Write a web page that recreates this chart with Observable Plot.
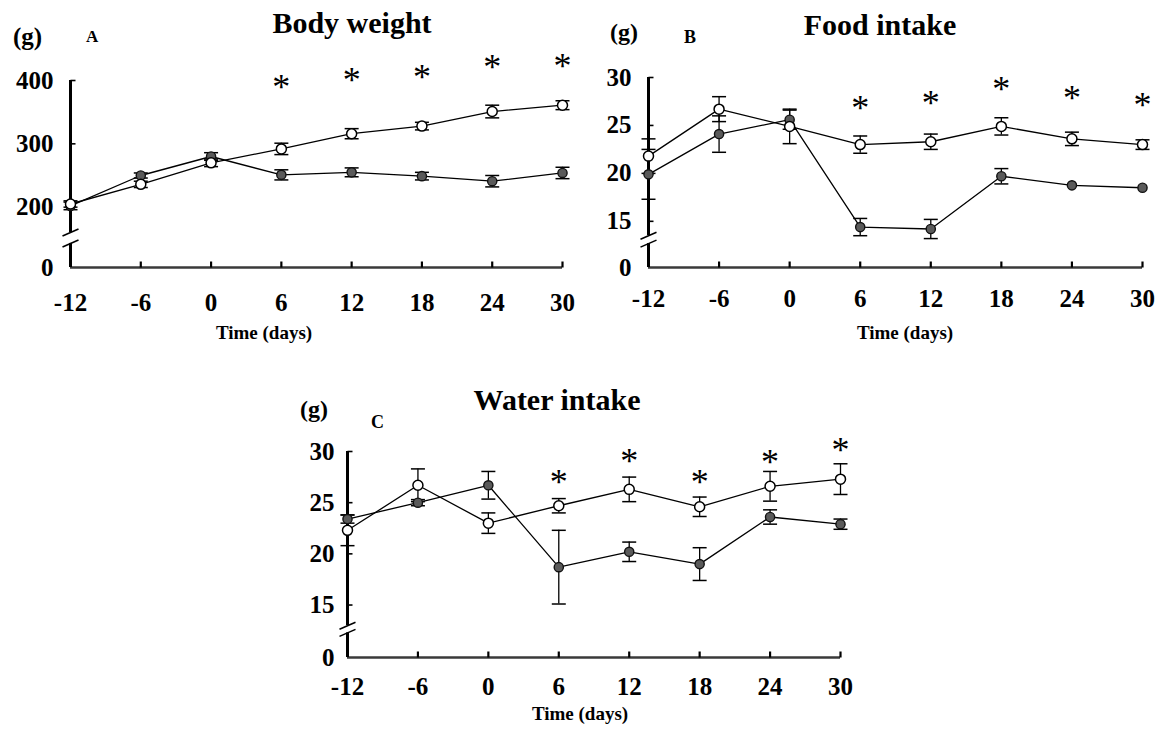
<!DOCTYPE html>
<html>
<head>
<meta charset="utf-8">
<script src="https://cdn.jsdelivr.net/npm/d3@7"></script>
<script src="https://cdn.jsdelivr.net/npm/@observablehq/plot@0.6"></script>
<style>
  html, body { margin: 0; padding: 0; background: #fff; }
  body { width: 1155px; height: 729px; position: relative; overflow: hidden; font-family: "Liberation Serif", serif; }
  .panel { position: absolute; }
  .lbl { position: absolute; line-height: 1; white-space: nowrap; font-family: "Liberation Serif", serif; color: #000; }
</style>
</head>
<body>
<script>
// ---------- data ----------
const days = [-12, -6, 0, 6, 12, 18, 24, 30];
const xTickLabels = [-12, -6, 0, 6, 12, 18, 24, 30];

// A: Body weight (g)
const bwOpen      = [205, 236, 270, 292, 316, 328, 351, 361];
const bwOpenSE    = [5, 5, 6, 9, 8, 6, 10, 7];
const bwFilled    = [202, 250, 280, 251, 255, 249, 241, 254];
const bwFilledSE  = [6, 4, 6, 8, 7, 6, 9, 9];
const bwStarDays  = [6, 12, 18, 24, 30];
const bwStarLevel = [398, 410, 414, 430, 431];
const bwYTicks    = [0, 200, 300, 400];

// B: Food intake (g)
const foodOpen      = [21.8, 26.7, 24.9, 23.0, 23.3, 24.9, 23.6, 23.0];
const foodOpenSE    = [1.8, 1.3, 1.8, 0.9, 0.8, 0.9, 0.7, 0.5];
const foodFilled    = [19.9, 24.1, 25.6, 14.4, 14.2, 19.7, 18.75, 18.5];
const foodFilledSE  = [2.6, 1.9, 1.0, 0.9, 1.0, 0.8, 0, 0];
const foodStarDays  = [6, 12, 18, 24, 30];
const foodStarLevel = [27.4, 27.9, 29.4, 28.4, 27.7];
const foodYTicks    = [0, 15, 20, 25, 30];

// C: Water intake (g)
const waterOpen      = [22.3, 26.7, 23.0, 24.7, 26.3, 24.6, 26.6, 27.3];
const waterOpenSE    = [1.5, 1.6, 1.0, 0.7, 1.2, 0.95, 1.45, 1.5];
const waterFilled    = [23.4, 25.0, 26.7, 18.7, 20.2, 19.0, 23.6, 22.9];
const waterFilledSE  = [0.4, 0.3, 1.35, 3.6, 0.95, 1.6, 0.7, 0.5];
const waterStarDays  = [6, 12, 18, 24, 30];
const waterStarLevel = [27.6, 29.6, 27.6, 29.5, 30.7];
const waterYTicks    = [0, 15, 20, 25, 30];

// ---------- helpers ----------
const FONT = "'Liberation Serif', 'Times New Roman', serif";
const upTick    = {draw(c) { c.moveTo(0, 0); c.lineTo(0, -6); }};
const rightTick = {draw(c) { c.moveTo(0, 0); c.lineTo(5, 0); }};
const capSym    = {draw(c) { c.moveTo(-7, 0); c.lineTo(7, 0); }};
const slashSym  = {draw(c) { c.moveTo(-8, 3.5); c.lineTo(8, -3.5); }};

function rows(vals, se) { return days.map((d, i) => ({t: d, v: vals[i], e: se[i]})); }

function panel(cfg) {
  const open = rows(cfg.open, cfg.openSE);
  const filled = rows(cfg.filled, cfg.filledSE);
  const all = [...filled, ...open].filter(d => d.e > 0);
  const stars = cfg.starDays.map((d, i) => ({t: d, v: cfg.starLevel[i]}));
  const top = cfg.yDomain[cfg.yDomain.length - 1];
  const chart = Plot.plot({
    width: cfg.width, height: cfg.height,
    marginLeft: cfg.ml, marginRight: cfg.mr, marginTop: cfg.mt, marginBottom: cfg.mb,
    style: {fontFamily: FONT, fontSize: "25px", fontWeight: "bold", background: "transparent", color: "#000", overflow: "visible"},
    x: {domain: [-12, 30]},
    y: {type: "linear", domain: cfg.yDomain, range: cfg.yRange},
    marks: [
      // axes lines
      Plot.ruleY([0], {x1: -12, x2: 30, stroke: "#3a3a3a", strokeWidth: 2.6}),
      Plot.ruleX([-12], {y1: 0, y2: cfg.brk[0], stroke: "#000", strokeWidth: 3}),
      Plot.ruleX([-12], {y1: cfg.brk[1], y2: top, stroke: "#000", strokeWidth: 3}),
      Plot.dot(cfg.brk, {x: () => -12, y: d => d, symbol: slashSym, stroke: "#000", strokeWidth: 1.6, fill: "none"}),
      Plot.dot(xTickLabels.slice(1), {x: d => d, y: () => 0, symbol: upTick, stroke: "#000", strokeWidth: 2.2, fill: "none"}),
      Plot.dot(cfg.yTicks.slice(1), {x: () => -12, y: d => d, symbol: rightTick, stroke: "#000", strokeWidth: 1.6, fill: "none"}),
      Plot.axisX(xTickLabels, {tickSize: 0, tickPadding: cfg.xPad, label: null, tickFormat: d => String(d), fontSize: 25, fontWeight: "bold"}),
      Plot.axisY(cfg.yTicks, {tickSize: 0, tickPadding: cfg.yPad, label: null, tickFormat: d => String(d), fontSize: 25, fontWeight: "bold"}),
      // error bars
      Plot.ruleX(all, {x: "t", y1: d => d.v - d.e, y2: d => d.v + d.e, stroke: "#000", strokeWidth: 1.3}),
      Plot.dot(all, {x: "t", y: d => d.v - d.e, symbol: capSym, stroke: "#000", strokeWidth: 1.5, fill: "none"}),
      Plot.dot(all, {x: "t", y: d => d.v + d.e, symbol: capSym, stroke: "#000", strokeWidth: 1.5, fill: "none"}),
      // lines
      Plot.line(filled, {x: "t", y: "v", stroke: "#000", strokeWidth: 1.3}),
      Plot.line(open, {x: "t", y: "v", stroke: "#000", strokeWidth: 1.3}),
      // markers
      Plot.dot(filled, {x: "t", y: "v", r: 4.6, fill: "#5a5a5a", stroke: "#111", strokeWidth: 1.4}),
      Plot.dot(open, {x: "t", y: "v", r: 5, fill: "#fff", stroke: "#000", strokeWidth: 1.5}),
      // significance
      Plot.text(stars, {x: "t", y: "v", text: () => "*", fontSize: 36, fontWeight: "normal", lineAnchor: "middle", dy: 6, fill: "#000"})
    ]
  });
  const div = document.createElement("div");
  div.className = "panel";
  div.style.left = cfg.left + "px";
  div.style.top = cfg.top + "px";
  div.appendChild(chart);
  document.body.appendChild(div);
}

function label(txt, x, baseline, size, anchor = "start", weight = "bold") {
  const el = document.createElement("div");
  el.className = "lbl";
  el.textContent = txt;
  el.style.left = x + "px";
  el.style.top = (baseline - 0.8375 * size) + "px";
  el.style.fontSize = size + "px";
  el.style.fontWeight = weight;
  if (anchor === "middle") el.style.transform = "translateX(-50%)";
  document.body.appendChild(el);
}

// ---------- panels ----------
panel({left: 0, top: 0, width: 580, height: 330, ml: 70, mr: 18, mt: 80, mb: 63,
  yDomain: [0, 160, 400], yRange: [267, 232, 80], brk: [110, 160], yTicks: bwYTicks,
  xPad: 26, yPad: 17,
  open: bwOpen, openSE: bwOpenSE, filled: bwFilled, filledSE: bwFilledSE,
  starDays: bwStarDays, starLevel: bwStarLevel});

panel({left: 580, top: 0, width: 575, height: 330, ml: 68, mr: 13, mt: 77, mb: 63,
  yDomain: [0, 13, 30], yRange: [267, 240, 77], brk: [11.5, 13.5], yTicks: foodYTicks,
  xPad: 22, yPad: 17,
  open: foodOpen, openSE: foodOpenSE, filled: foodFilled, filledSE: foodFilledSE,
  starDays: foodStarDays, starLevel: foodStarLevel});

panel({left: 270, top: 380, width: 600, height: 330, ml: 77, mr: 30, mt: 71, mb: 53,
  yDomain: [0, 13, 30], yRange: [277, 245, 71], brk: [10, 12.9], yTicks: waterYTicks,
  xPad: 20, yPad: 13,
  open: waterOpen, openSE: waterOpenSE, filled: waterFilled, filledSE: waterFilledSE,
  starDays: waterStarDays, starLevel: waterStarLevel});

// ---------- titles & labels ----------
label("Body weight", 352, 33, 30, "middle");
label("(g)", 13, 45, 25);
label("A", 86, 42, 17);
label("Time (days)", 264, 339, 19, "middle");

label("Food intake", 880, 35, 30, "middle");
label("(g)", 610, 40, 24);
label("B", 684, 43, 18);
label("Time (days)", 905, 339, 19, "middle");

label("Water intake", 557, 410, 30, "middle");
label("(g)", 300, 417, 24);
label("C", 371, 428, 18);
label("Time (days)", 580, 720, 19, "middle");
</script>
</body>
</html>
